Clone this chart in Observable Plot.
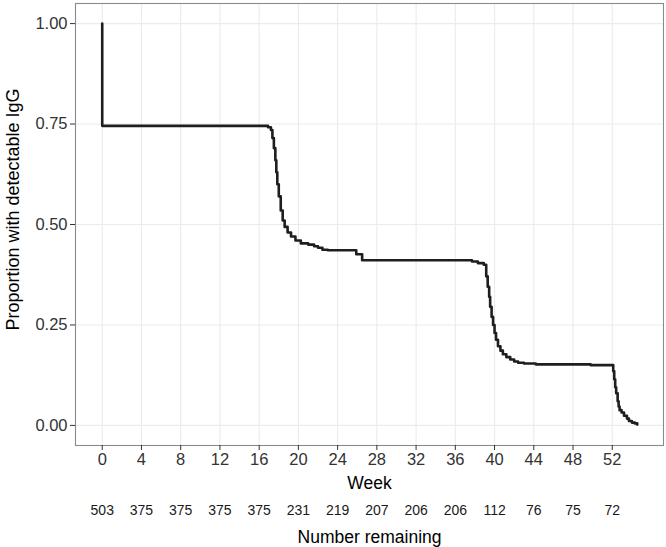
<!DOCTYPE html>
<html>
<head>
<meta charset="utf-8">
<script src="https://cdn.jsdelivr.net/npm/d3@7"></script>
<script src="https://cdn.jsdelivr.net/npm/@observablehq/plot@0.6"></script>
<style>
  html, body { margin: 0; padding: 0; background: white; }
</style>
</head>
<body>
<div id="chart"></div>
<script>
// Tick labels / at-risk table
const weekTicks = [0, 4, 8, 12, 16, 20, 24, 28, 32, 36, 40, 44, 48, 52];
const remaining = [503, 375, 375, 375, 375, 231, 219, 207, 206, 206, 112, 76, 75, 72];
const yTicks = [0, 0.25, 0.5, 0.75, 1.0];

// Kaplan-Meier step points (week, proportion)
const times = [
  0, 0, 16.9, 17.2, 17.35, 17.5, 17.65, 17.75, 17.85, 18.0, 18.2, 18.4, 18.6, 18.9,
  19.25, 19.7, 20.25, 21.0, 21.6, 22.0, 22.45, 23.0, 25.9, 26.5, 37.7, 38.3, 38.9,
  39.15, 39.3, 39.45, 39.55, 39.7, 39.85, 40.0, 40.15, 40.35, 40.6, 40.85, 41.2, 41.6,
  42.0, 42.4, 43.0, 44.2, 49.8, 52.1, 52.2, 52.3, 52.4, 52.55, 52.65, 52.75, 52.95,
  53.2, 53.5, 53.7, 54.0, 54.3, 54.55
];
const surv = [
  1.0, 0.7455, 0.742, 0.735, 0.715, 0.69, 0.66, 0.63, 0.60, 0.57, 0.535, 0.51, 0.494, 0.48,
  0.47, 0.46, 0.453, 0.450, 0.446, 0.442, 0.437, 0.436, 0.426, 0.411, 0.408, 0.404, 0.400,
  0.371, 0.345, 0.32, 0.295, 0.27, 0.25, 0.23, 0.213, 0.197, 0.186, 0.177, 0.170, 0.164,
  0.159, 0.156, 0.154, 0.152, 0.150, 0.135, 0.115, 0.095, 0.08, 0.06, 0.047, 0.038, 0.032,
  0.024, 0.017, 0.011, 0.007, 0.005, 0.002
];

const data = times.map((t, i) => ({t, s: surv[i]}));

const font = "'Liberation Sans', Arial, Helvetica, sans-serif";

const chart = Plot.plot({
  width: 666,
  height: 547,
  marginLeft: 75,
  marginRight: 3,
  marginTop: 3,
  marginBottom: 102,
  style: {fontFamily: font, background: "white", color: "#1a1a1a", overflow: "visible"},
  x: {domain: [-2.725, 57.225]},
  y: {domain: [-0.05, 1.05]},
  marks: [
    Plot.gridX(weekTicks, {stroke: "#ebebeb", strokeOpacity: 1, strokeWidth: 1.1}),
    Plot.gridY(yTicks, {stroke: "#ebebeb", strokeOpacity: 1, strokeWidth: 1.1}),
    Plot.line(data, {x: "t", y: "s", curve: "step-after", stroke: "#1e1e1e", strokeWidth: 2.6}),
    Plot.frame({stroke: "#8a8a8a", strokeWidth: 1.1}),
    Plot.axisX(weekTicks, {tickSize: 5, tickPadding: 3, fontSize: 16.5, fill: "#333333", stroke: "#333333", label: null}),
    Plot.axisY(yTicks, {tickSize: 5, tickPadding: 3, fontSize: 16.5, fill: "#333333", stroke: "#333333", tickFormat: d3.format(".2f"), label: null}),
    Plot.text(["Week"], {frameAnchor: "bottom", lineAnchor: "middle", dy: 38, fontSize: 17.5, fill: "black"}),
    Plot.text(weekTicks, {x: d => d, frameAnchor: "bottom", lineAnchor: "middle", dy: 65, text: (d, i) => String(remaining[i]), fontSize: 14, fill: "#1a1a1a"}),
    Plot.text(["Number remaining"], {frameAnchor: "bottom", lineAnchor: "middle", dy: 92, fontSize: 17.5, fill: "black"}),
    Plot.text(["Proportion with detectable IgG"], {frameAnchor: "left", textAnchor: "middle", lineAnchor: "middle", dx: -62, dy: -15, rotate: -90, fontSize: 18, fill: "black"})
  ]
});

document.getElementById("chart").appendChild(chart);
</script>
</body>
</html>
